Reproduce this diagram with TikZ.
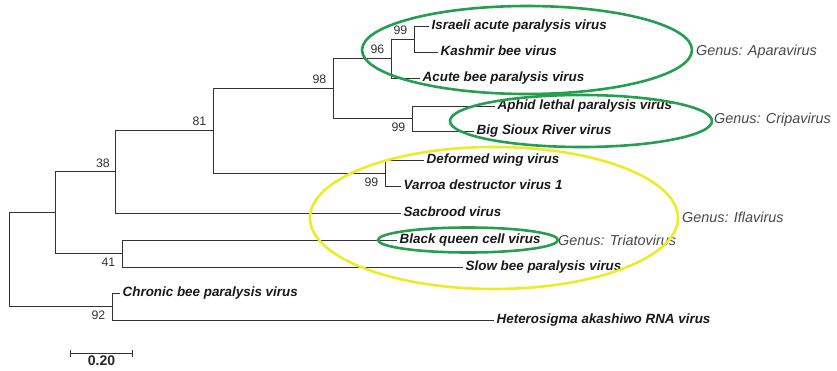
\documentclass[tikz,border=0pt]{standalone}
\usepackage{fontspec}
\setmainfont{Liberation Sans}
\usepackage{tikz}
\usetikzlibrary{positioning,arrows.meta}
\definecolor{cladegreen}{RGB}{38,158,80}
\definecolor{cladeyellow}{RGB}{238,234,40}
\definecolor{genusgray}{RGB}{72,72,72}

\begin{document}
\begin{tikzpicture}[
  x=1pt, y=-1pt,
  node distance=4.5pt and 6.5pt,
  branch/.style={draw=black!80, line width=0.9pt},
  taxon/.style={anchor=west, inner sep=2.5pt, text height=9pt, text depth=3pt, font=\fontsize{13.4}{15}\selectfont\bfseries\itshape, text=black!90},
  boot/.style={inner sep=0pt, font=\fontsize{12.3}{14}\selectfont, text=black!80},
  genus/.style={anchor=west, inner sep=0pt, font=\fontsize{14.4}{16}\selectfont\itshape, text=genusgray},
  clade/.style={line width=2.6pt},
  scalelbl/.style={inner sep=0pt, font=\fontsize{14}{16}\selectfont\bfseries, text=black!85}
]
  \useasboundingbox (0,0) rectangle (837,370);

  % junctions of the tree
  \coordinate (root) at (9,259.6);
  \coordinate (n1) at (55,212.7);
  \coordinate (n38) at (115,171.9);
  \coordinate (n81) at (213,130.8);
  \coordinate (n98) at (333,88.5);
  \coordinate (n96) at (391,58.5);
  \coordinate (n99a) at (414,39);
  \coordinate (n99b) at (412,118.5);
  \coordinate (n99c) at (385,173);
  \coordinate (n41) at (122,253.5);
  \coordinate (n92) at (112,306.5);

  % taxa
  \node[taxon] (iapv) at (429,26) {Israeli acute paralysis virus};
  \node[taxon] (kbv) at (438,52) {Kashmir bee virus};
  \node[taxon] (abpv) at (420,78) {Acute bee paralysis virus};
  \node[taxon] (alpv) at (495,106) {Aphid lethal paralysis virus};
  \node[taxon] (bsrv) at (474,131) {Big Sioux River virus};
  \node[taxon] (dwv) at (424,160) {Deformed wing virus};
  \node[taxon] (vdv) at (401,186) {Varroa destructor virus 1};
  \node[taxon] (sbv) at (401,213) {Sacbrood virus};
  \node[taxon] (bqcv) at (397,240) {Black queen cell virus};
  \node[taxon] (sbpv) at (463,267) {Slow bee paralysis virus};
  \node[taxon] (cbpv) at (120,293) {Chronic bee paralysis virus};
  \node[taxon] (harv) at (494,320) {Heterosigma akashiwo RNA virus};

  % branches
  \draw[branch] (n99a) |- (iapv.west);
  \draw[branch] (n99a) |- (kbv.west);
  \draw[branch] (n96) |- (n99a);
  \draw[branch] (n96) |- (abpv.west);
  \draw[branch] (n98) |- (n96);
  \draw[branch] (n98) |- (n99b);
  \draw[branch] (n99b) |- (alpv.west);
  \draw[branch] (n99b) |- (bsrv.west);
  \draw[branch] (n81) |- (n98);
  \draw[branch] (n81) |- (n99c);
  \draw[branch] (n99c) |- (dwv.west);
  \draw[branch] (n99c) |- (vdv.west);
  \draw[branch] (n38) |- (n81);
  \draw[branch] (n38) |- (sbv.west);
  \draw[branch] (n1) |- (n38);
  \draw[branch] (n1) |- (n41);
  \draw[branch] (n41) |- (bqcv.west);
  \draw[branch] (n41) |- (sbpv.west);
  \draw[branch] (root) |- (n1);
  \draw[branch] (root) |- (n92);
  \draw[branch] (n92) |- (cbpv.west);
  \draw[branch] (n92) |- (harv.west);

  % bootstrap values
  \node[boot, above left=of n99a] (b99a) {99};
  \node[boot, above left=of n96] (b96) {96};
  \node[boot, above left=of n98] (b98) {98};
  \node[boot, above left=of n81] (b81) {81};
  \node[boot, above left=4.5pt and 5pt of n38] (b38) {38};
  \node[boot, below left=of n99b] (b99b) {99};
  \node[boot, below left=of n99c] (b99c) {99};
  \node[boot, below left=of n41] (b41) {41};
  \node[boot, below left=of n92] (b92) {92};

  % genus labels
  \node[genus] (apara) at (696,52) {Genus: Aparavirus};
  \node[genus] (cripa) at (714,120) {Genus: Cripavirus};
  \node[genus] (ifla) at (682,217) {Genus: Iflavirus};
  \node[genus] (triato) at (558,240) {Genus: Triatovirus};

  % clade rings
  \draw[clade, cladegreen] (527,50) ellipse (165pt and 44pt);
  \draw[clade, cladegreen] (581,121) ellipse (131pt and 26pt);
  \draw[clade, cladeyellow] (494,218) ellipse (184pt and 71pt);
  \draw[clade, cladegreen] (468,240) ellipse (90pt and 12.5pt);

  % scale bar
  \coordinate (sbl) at (70,353);
  \coordinate (sbr) at (133,353);
  \coordinate (sbmid) at (101.5,353);
  \draw[branch, {Bar[width=7pt]}-{Bar[width=7pt]}] (sbl) -- (sbr);
  \node[scalelbl, below=2.5pt of sbmid] (sblabel) {0.20};
\end{tikzpicture}
\end{document}
